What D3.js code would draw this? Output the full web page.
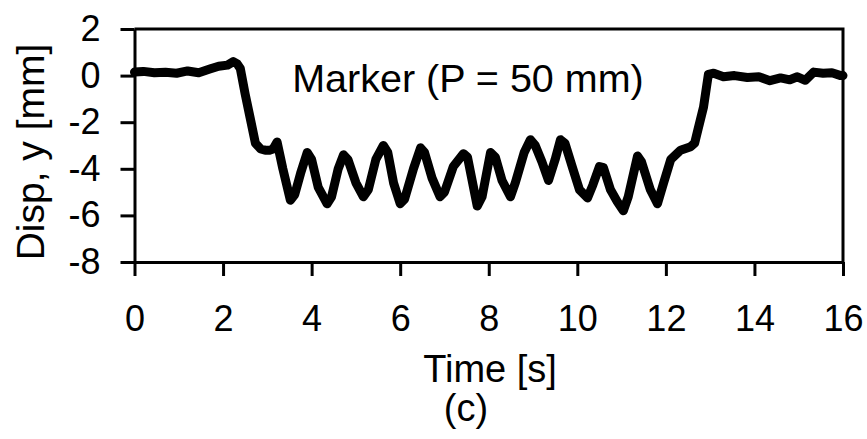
<!DOCTYPE html>
<html>
<head>
<meta charset="utf-8">
<script src="https://cdn.jsdelivr.net/npm/d3@7"></script>
<style>
  body { margin: 0; background: #fff; }
  svg { display: block; font-family: "Liberation Sans", Arial, sans-serif; }
</style>
</head>
<body>
<script>
// time [s] and marker displacement y [mm]
const time = [0, 0.2, 0.45, 0.7, 0.95, 1.2, 1.45, 1.7, 1.9, 2.1, 2.23, 2.32, 2.39,
  2.5, 2.61, 2.73, 2.85, 2.95, 3.05, 3.13, 3.22, 3.35, 3.52, 3.62, 3.75, 3.9, 4.0,
  4.15, 4.35, 4.45, 4.6, 4.72, 4.82, 5.0, 5.17, 5.28, 5.45, 5.62, 5.72, 5.85, 6.0,
  6.1, 6.3, 6.46, 6.55, 6.72, 6.9, 7.0, 7.2, 7.43, 7.52, 7.74, 7.85, 8.04, 8.15,
  8.3, 8.49, 8.6, 8.8, 8.94, 9.05, 9.2, 9.35, 9.5, 9.62, 9.72, 9.9, 10.05, 10.23,
  10.35, 10.5, 10.59, 10.75, 10.9, 11.04, 11.15, 11.36, 11.45, 11.65, 11.81,
  11.95, 12.11, 12.33, 12.56, 12.65, 12.72, 12.85, 12.96, 13.08, 13.3, 13.55,
  13.84, 14.1, 14.35, 14.59, 14.8, 14.97, 15.15, 15.34, 15.55, 15.75, 15.95, 16.0];
const disp = [0.15, 0.18, 0.12, 0.14, 0.1, 0.2, 0.12, 0.28, 0.4, 0.45, 0.6, 0.5,
  0.3, -0.8, -1.8, -2.9, -3.15, -3.2, -3.2, -3.15, -2.85, -4.0, -5.35, -5.1,
  -4.2, -3.3, -3.6, -4.8, -5.5, -5.2, -4.0, -3.4, -3.6, -4.6, -5.2, -4.9, -3.6,
  -3.0, -3.3, -4.6, -5.5, -5.3, -4.0, -3.1, -3.3, -4.4, -5.2, -5.0, -3.9, -3.35,
  -3.5, -5.6, -5.2, -3.3, -3.5, -4.5, -5.2, -4.6, -3.3, -2.75, -3.0, -3.7, -4.5,
  -3.6, -2.75, -2.9, -4.0, -4.9, -5.25, -4.7, -3.9, -3.95, -4.9, -5.4, -5.8,
  -5.2, -3.45, -3.7, -4.9, -5.5, -4.6, -3.6, -3.2, -3.05, -2.9, -2.35, -1.35,
  0.05, 0.1, -0.05, 0.0, -0.08, -0.05, -0.22, -0.1, -0.18, -0.05, -0.2, 0.15,
  0.1, 0.12, 0.0, 0.0];

const xTicks = [0, 2, 4, 6, 8, 10, 12, 14, 16];
const yTicks = [2, 0, -2, -4, -6, -8];

const width = 867, height = 439;
const plotLeft = 134.5, plotRight = 843, plotTop = 29, plotBottom = 262;

const svg = d3.select('body').append('svg')
  .attr('width', width)
  .attr('height', height);

const x = d3.scaleLinear().domain([0, 16]).range([plotLeft, plotRight]);
const y = d3.scaleLinear().domain([-8, 2]).range([plotBottom, plotTop]);

// top and right frame lines
svg.append('path')
  .attr('d', `M${plotLeft},${plotTop}H${plotRight}V${plotBottom}`)
  .attr('fill', 'none')
  .attr('stroke', '#000')
  .attr('stroke-width', 3);

// plain hyphen for negatives, like the original
const fmt = d => String(d);

const xAxis = svg.append('g')
  .attr('transform', `translate(0,${plotBottom})`)
  .call(d3.axisBottom(x).tickValues(xTicks).tickFormat(fmt)
    .tickSize(14).tickPadding(29).tickSizeOuter(0));

const yAxis = svg.append('g')
  .attr('transform', `translate(${plotLeft},0)`)
  .call(d3.axisLeft(y).tickValues(yTicks).tickFormat(fmt)
    .tickSize(14).tickPadding(20).tickSizeOuter(0));

[xAxis, yAxis].forEach(g => {
  g.select('.domain').attr('stroke-width', 3);
  g.selectAll('.tick line').attr('stroke-width', 3);
  g.selectAll('.tick text')
    .attr('font-size', 36)
    .attr('font-family', '"Liberation Sans", Arial, sans-serif')
    .attr('fill', '#000');
});

// the measured trace
const line = d3.line()
  .x((d, i) => x(time[i]))
  .y(d => y(d));

svg.append('path')
  .datum(disp)
  .attr('d', line)
  .attr('fill', 'none')
  .attr('stroke', '#000')
  .attr('stroke-width', 9)
  .attr('stroke-linejoin', 'round')
  .attr('stroke-linecap', 'round');

svg.append('text')
  .attr('x', 468)
  .attr('y', 92)
  .attr('text-anchor', 'middle')
  .attr('font-size', 39.5)
  .text('Marker (P = 50 mm)');

svg.append('text')
  .attr('x', 490)
  .attr('y', 382)
  .attr('text-anchor', 'middle')
  .attr('font-size', 38)
  .text('Time [s]');

svg.append('text')
  .attr('x', 466)
  .attr('y', 421)
  .attr('text-anchor', 'middle')
  .attr('font-size', 38)
  .text('(c)');

svg.append('text')
  .attr('transform', 'translate(44,152) rotate(-90)')
  .attr('text-anchor', 'middle')
  .attr('font-size', 39)
  .text('Disp, y [mm]');
</script>
</body>
</html>
